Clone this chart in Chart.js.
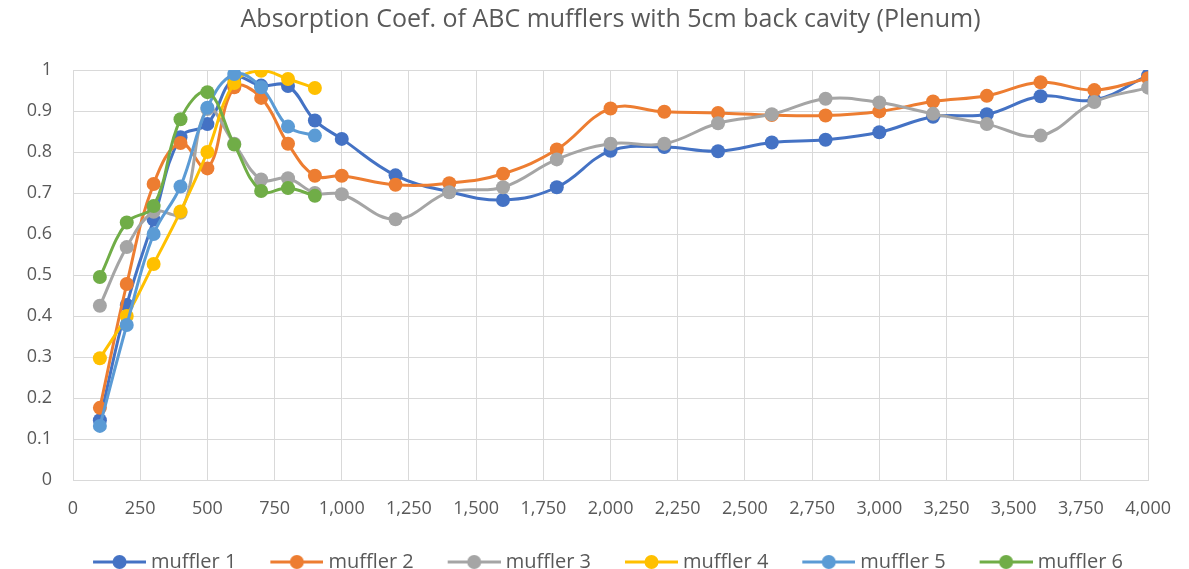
<!DOCTYPE html>
<html>
<head>
    <title>Absorption Coef. of ABC mufflers</title>
    <script src="https://cdn.jsdelivr.net/npm/chart.js"></script>
    <style>
        body { margin: 0; background: #fff; }
    </style>
</head>
<body>
    <canvas id="chart" width="1189" height="569"></canvas>

    <script>
        // frequencies (Hz) shared by all series
        var freqs = [100, 200, 300, 400, 500, 600, 700, 800, 900, 1000,
                     1200, 1400, 1600, 1800, 2000, 2200, 2400, 2600, 2800, 3000,
                     3200, 3400, 3600, 3800, 4000];

        var muffler1 = [0.146, 0.427, 0.635, 0.836, 0.868, 0.98, 0.962, 0.961, 0.877, 0.832,
                        0.743, 0.703, 0.683, 0.714, 0.803, 0.812, 0.802, 0.823, 0.830, 0.848,
                        0.886, 0.892, 0.936, 0.927, 0.987];
        var muffler2 = [0.176, 0.478, 0.722, 0.822, 0.76, 0.958, 0.932, 0.82, 0.742, 0.742,
                        0.72, 0.724, 0.747, 0.806, 0.906, 0.898, 0.895, 0.89, 0.889, 0.899,
                        0.923, 0.937, 0.97, 0.951, 0.98];
        var muffler3 = [0.425, 0.568, 0.654, 0.652, 0.905, 0.82, 0.733, 0.736, 0.70, 0.697,
                        0.636, 0.702, 0.714, 0.782, 0.82, 0.82, 0.87, 0.892, 0.93, 0.921,
                        0.893, 0.868, 0.84, 0.922, 0.957];
        var muffler4 = [0.297, 0.40, 0.527, 0.655, 0.80, 0.968, 0.998, 0.978, 0.956];
        var muffler5 = [0.132, 0.378, 0.60, 0.716, 0.908, 0.99, 0.958, 0.862, 0.84];
        var muffler6 = [0.495, 0.628, 0.668, 0.88, 0.946, 0.818, 0.705, 0.712, 0.693];

        var seriesNames = ['muffler 1', 'muffler 2', 'muffler 3', 'muffler 4', 'muffler 5', 'muffler 6'];
        var seriesValues = [muffler1, muffler2, muffler3, muffler4, muffler5, muffler6];
        var colors = ['#4472C4', '#ED7D31', '#A5A5A5', '#FFC000', '#5B9BD5', '#70AD47'];

        var xTicks = [0, 250, 500, 750, 1000, 1250, 1500, 1750, 2000, 2250, 2500, 2750,
                      3000, 3250, 3500, 3750, 4000];
        var yTicks = [0, 0.1, 0.2, 0.3, 0.4, 0.5, 0.6, 0.7, 0.8, 0.9, 1];

        var textColor = '#595959';
        var gridColor = '#d9d9d9';
        var fontFamily = '"Open Sans", "Liberation Sans", sans-serif';

        // legend marker: short line with a dot in the middle, like Excel
        var legendFont = 20;
        var boxW = 82;
        function legendMarker(color) {
            var c = document.createElement('canvas');
            c.width = boxW + 10;
            c.height = 16;
            var g = c.getContext('2d');
            var x1 = c.width - 53, x2 = c.width;
            g.strokeStyle = color;
            g.lineWidth = 3;
            g.beginPath();
            g.moveTo(x1, 8);
            g.lineTo(x2, 8);
            g.stroke();
            g.fillStyle = color;
            g.beginPath();
            g.arc((x1 + x2) / 2, 8, 7, 0, Math.PI * 2);
            g.fill();
            return c;
        }

        var datasets = seriesValues.map(function (vals, i) {
            return {
                label: seriesNames[i],
                data: vals.map(function (v, j) { return { x: freqs[j], y: v }; }),
                borderColor: colors[i],
                backgroundColor: colors[i],
                borderWidth: 3,
                pointRadius: 7,
                pointBorderWidth: 0,
                pointHoverRadius: 7,
                tension: 0.4,
                showLine: true,
                order: 6 - i   // later series drawn on top, as in Excel
            };
        });

        var ctx = document.getElementById('chart').getContext('2d');
        var chart = new Chart(ctx, {
            type: 'scatter',
            data: { datasets: datasets },
            options: {
                responsive: false,
                animation: false,
                layout: { padding: { left: 25, right: 32, top: 0, bottom: 0 } },
                plugins: {
                    title: {
                        display: true,
                        fullSize: false,
                        text: 'Absorption Coef. of ABC mufflers with 5cm back cavity (Plenum)',
                        color: textColor,
                        font: { family: fontFamily, size: 25, weight: 'normal' },
                        padding: { top: 5, bottom: 35 }
                    },
                    legend: {
                        position: 'bottom',
                        maxHeight: 17,
                        labels: {
                            color: textColor,
                            font: { family: fontFamily, size: legendFont },
                            usePointStyle: true,
                            pointStyleWidth: boxW,
                            padding: 0,
                            generateLabels: function (chart) {
                                return chart.data.datasets.map(function (ds, i) {
                                    return {
                                        text: ds.label,
                                        fontColor: textColor,
                                        pointStyle: legendMarker(colors[i]),
                                        strokeStyle: colors[i],
                                        fillStyle: colors[i],
                                        lineWidth: 0,
                                        hidden: false,
                                        datasetIndex: i
                                    };
                                });
                            }
                        }
                    },
                    tooltip: { enabled: false }
                },
                scales: {
                    x: {
                        type: 'linear',
                        min: 0,
                        max: 4000,
                        afterBuildTicks: function (scale) {
                            scale.ticks = xTicks.map(function (v) { return { value: v }; });
                        },
                        afterFit: function (scale) { scale.height = 72; },
                        grid: { color: gridColor, lineWidth: 1, drawTicks: false },
                        border: { color: gridColor },
                        ticks: {
                            color: textColor,
                            font: { family: fontFamily, size: 18 },
                            padding: 18,
                            maxRotation: 0,
                            autoSkip: false,
                            callback: function (v) { return v.toLocaleString('en-US'); }
                        }
                    },
                    y: {
                        type: 'linear',
                        min: 0,
                        max: 1,
                        afterBuildTicks: function (scale) {
                            scale.ticks = yTicks.map(function (v) { return { value: v }; });
                        },
                        afterFit: function (scale) { scale.width = 48; },
                        grid: { color: gridColor, lineWidth: 1, drawTicks: false },
                        border: { color: gridColor },
                        ticks: {
                            color: textColor,
                            font: { family: fontFamily, size: 18 },
                            padding: 21,
                            callback: function (v) { return String(Number(v.toFixed(1))); }
                        }
                    }
                }
            }
        });
    </script>
</body>
</html>
